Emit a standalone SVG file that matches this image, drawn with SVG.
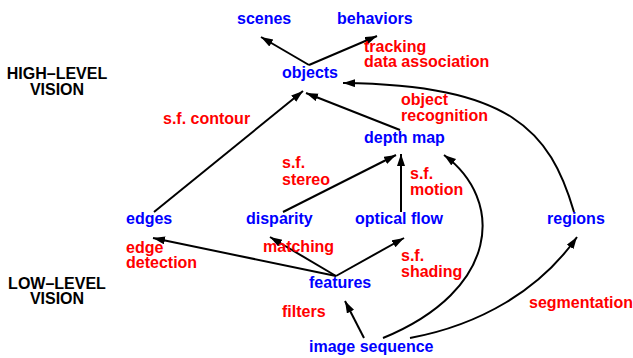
<svg xmlns="http://www.w3.org/2000/svg" width="633" height="358" viewBox="0 0 633 358">
<style>
text{font-family:"Liberation Sans",Arial,sans-serif;font-weight:bold;font-size:16px}
.n{fill:#0000ff}
.l{fill:#ff0000}
.h{fill:#000000}
.c{fill:none;stroke:#000;stroke-width:2}
</style>
<defs>
<marker id="a" markerUnits="userSpaceOnUse" markerWidth="14" markerHeight="10" refX="12" refY="4" orient="auto">
<path d="M0,0 L12,4 L0,8 z" fill="#000"/>
</marker>
</defs>
<rect width="633" height="358" fill="#fff"/>
<g id="levels">
<text class="h" x="57" y="79" text-anchor="middle">HIGH–LEVEL</text>
<text class="h" x="57" y="95" text-anchor="middle">VISION</text>
<text class="h" x="57" y="289" text-anchor="middle">LOW–LEVEL</text>
<text class="h" x="57" y="304" text-anchor="middle">VISION</text>
</g>
<g id="connectors">
<path class="c" d="M309,65 L261,37" marker-end="url(#a)"/>
<path class="c" d="M309,65 L377,36" marker-end="url(#a)"/>
<path class="c" d="M154,212 L303,91" marker-end="url(#a)"/>
<path class="c" d="M400,130 L306,93" marker-end="url(#a)"/>
<path class="c" d="M574,212 C550,130 510,85 343,83" marker-end="url(#a)"/>
<path class="c" d="M283,212 L396,155" marker-end="url(#a)"/>
<path class="c" d="M401,212 L401,154" marker-end="url(#a)"/>
<path class="c" d="M383,338 C500,290 505,200 444,155" marker-end="url(#a)"/>
<path class="c" d="M410,338 C480,325 540,290 577,237" marker-end="url(#a)"/>
<path class="c" d="M364,338 L345,301" marker-end="url(#a)"/>
<path class="c" d="M336,276 L153,238" marker-end="url(#a)"/>
<path class="c" d="M336,276 L270,237" marker-end="url(#a)"/>
<path class="c" d="M336,276 L404,238" marker-end="url(#a)"/>
</g>
<g id="labels">
<text class="l" x="364" y="52">tracking</text>
<text class="l" x="364" y="67">data association</text>
<text class="l" x="163" y="124">s.f. contour</text>
<text class="l" x="401" y="105">object</text>
<text class="l" x="401" y="121">recognition</text>
<text class="l" x="282" y="168">s.f.</text>
<text class="l" x="282" y="185">stereo</text>
<text class="l" x="410" y="179">s.f.</text>
<text class="l" x="410" y="195">motion</text>
<text class="l" x="263" y="252">matching</text>
<text class="l" x="126" y="253">edge</text>
<text class="l" x="126" y="268">detection</text>
<text class="l" x="401" y="261">s.f.</text>
<text class="l" x="401" y="277">shading</text>
<text class="l" x="282" y="317">filters</text>
<text class="l" x="529" y="308">segmentation</text>
</g>
<g id="scenes"><text class="n" x="237" y="24">scenes</text></g>
<g id="behaviors"><text class="n" x="337" y="24">behaviors</text></g>
<g id="objects"><text class="n" x="282" y="78">objects</text></g>
<g id="depth-map"><text class="n" x="364" y="143">depth map</text></g>
<g id="edges"><text class="n" x="126" y="224">edges</text></g>
<g id="disparity"><text class="n" x="246" y="224">disparity</text></g>
<g id="optical-flow"><text class="n" x="355" y="224">optical flow</text></g>
<g id="regions"><text class="n" x="547" y="224">regions</text></g>
<g id="features"><text class="n" x="309" y="288">features</text></g>
<g id="image-sequence"><text class="n" x="309" y="352">image sequence</text></g>
</svg>
